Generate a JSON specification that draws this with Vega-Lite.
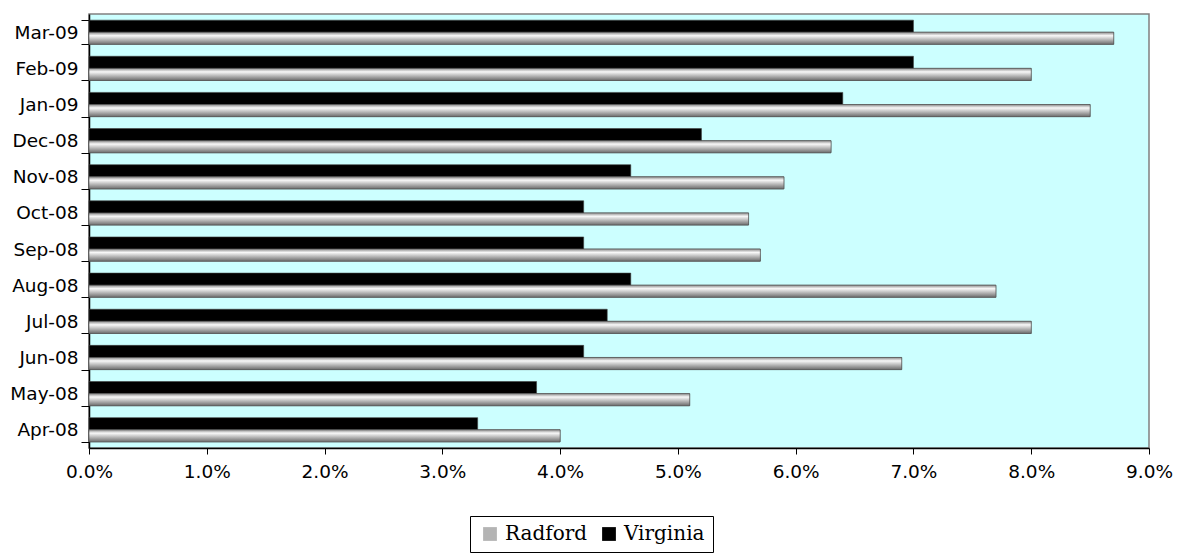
{
  "$schema": "https://vega.github.io/schema/vega-lite/v6.json",
  "width": 1060,
  "height": 434,
  "autosize": {"type": "none"},
  "padding": {"left": 89, "top": 14, "right": 28, "bottom": 106},
  "background": "white",
  "config": {
    "view": {"fill": "#CCFFFF", "stroke": "#808080", "strokeWidth": 1.5},
    "font": "DejaVu Sans"
  },
  "data": {
    "values": [
      {"month": "Apr-08", "series": "Radford", "rate": 0.040},
      {"month": "Apr-08", "series": "Virginia", "rate": 0.033},
      {"month": "May-08", "series": "Radford", "rate": 0.051},
      {"month": "May-08", "series": "Virginia", "rate": 0.038},
      {"month": "Jun-08", "series": "Radford", "rate": 0.069},
      {"month": "Jun-08", "series": "Virginia", "rate": 0.042},
      {"month": "Jul-08", "series": "Radford", "rate": 0.080},
      {"month": "Jul-08", "series": "Virginia", "rate": 0.044},
      {"month": "Aug-08", "series": "Radford", "rate": 0.077},
      {"month": "Aug-08", "series": "Virginia", "rate": 0.046},
      {"month": "Sep-08", "series": "Radford", "rate": 0.057},
      {"month": "Sep-08", "series": "Virginia", "rate": 0.042},
      {"month": "Oct-08", "series": "Radford", "rate": 0.056},
      {"month": "Oct-08", "series": "Virginia", "rate": 0.042},
      {"month": "Nov-08", "series": "Radford", "rate": 0.059},
      {"month": "Nov-08", "series": "Virginia", "rate": 0.046},
      {"month": "Dec-08", "series": "Radford", "rate": 0.063},
      {"month": "Dec-08", "series": "Virginia", "rate": 0.052},
      {"month": "Jan-09", "series": "Radford", "rate": 0.085},
      {"month": "Jan-09", "series": "Virginia", "rate": 0.064},
      {"month": "Feb-09", "series": "Radford", "rate": 0.080},
      {"month": "Feb-09", "series": "Virginia", "rate": 0.070},
      {"month": "Mar-09", "series": "Radford", "rate": 0.087},
      {"month": "Mar-09", "series": "Virginia", "rate": 0.070}
    ]
  },
  "encoding": {
    "y": {
      "field": "month",
      "type": "nominal",
      "sort": ["Mar-09", "Feb-09", "Jan-09", "Dec-08", "Nov-08", "Oct-08", "Sep-08", "Aug-08", "Jul-08", "Jun-08", "May-08", "Apr-08"],
      "scale": {"paddingInner": 0.33, "paddingOuter": 0.17},
      "axis": {
        "title": null,
        "labelFont": "DejaVu Sans",
        "labelFontSize": 18.5,
        "labelColor": "#000000",
        "labelPadding": 3,
        "tickBand": "extent",
        "tickSize": 8,
        "tickColor": "#000000",
        "domainColor": "#000000",
        "domainWidth": 1.5
      }
    },
    "yOffset": {
      "field": "series",
      "type": "nominal",
      "sort": ["Virginia", "Radford"],
      "scale": {"domain": ["Virginia", "Radford"], "paddingInner": 0}
    },
    "x": {
      "field": "rate",
      "type": "quantitative",
      "scale": {"domain": [0, 0.09], "nice": false},
      "axis": {
        "title": null,
        "format": ".1%",
        "values": [0, 0.01, 0.02, 0.03, 0.04, 0.05, 0.06, 0.07, 0.08, 0.09],
        "grid": false,
        "labelFlush": false,
        "labelFont": "DejaVu Sans",
        "labelFontSize": 18.5,
        "labelColor": "#000000",
        "labelPadding": 8,
        "tickSize": 6,
        "tickColor": "#000000",
        "domainColor": "#000000",
        "domainWidth": 1.5
      }
    }
  },
  "layer": [
    {
      "mark": {"type": "bar", "stroke": "#404040", "strokeWidth": 0.6},
      "encoding": {
        "color": {
          "field": "series",
          "type": "nominal",
          "scale": {"domain": ["Radford", "Virginia"], "range": ["#b4b4b4", "#000000"]},
          "legend": {
            "title": null,
            "orient": "none",
            "legendX": 381,
            "legendY": 502,
            "direction": "horizontal",
            "symbolType": "square",
            "symbolSize": 190,
            "symbolStrokeWidth": 0,
            "symbolOffset": 2,
            "labelFont": "DejaVu Serif",
            "labelFontSize": 20,
            "labelColor": "#000000",
            "labelOffset": 5,
            "columnPadding": 9,
            "strokeColor": "#000000",
            "fillColor": "#ffffff",
            "padding": 8,
            "encode": {
              "symbols": {
                "update": {
                  "fill": [
                    {"test": "datum.value === 'Radford'", "value": {"gradient": "linear", "x1": 0, "y1": 0, "x2": 0, "y2": 1, "stops": [
                      {"offset": 0, "color": "#f4f4f4"},
                      {"offset": 1, "color": "#6c6c6c"}
                    ]}},
                    {"value": "#000000"}
                  ]
                }
              }
            }
          }
        }
      }
    },
    {
      "transform": [{"filter": "datum.series === 'Radford'"}],
      "mark": {
        "type": "bar",
        "stroke": "#505050",
        "strokeWidth": 0.6,
        "fill": {"gradient": "linear", "x1": 0, "y1": 0, "x2": 0, "y2": 1, "stops": [
          {"offset": 0, "color": "#8c8c8c"},
          {"offset": 0.28, "color": "#f8f8f8"},
          {"offset": 0.55, "color": "#c4c4c4"},
          {"offset": 1, "color": "#6c6c6c"}
        ]}
      }
    }
  ]
}
